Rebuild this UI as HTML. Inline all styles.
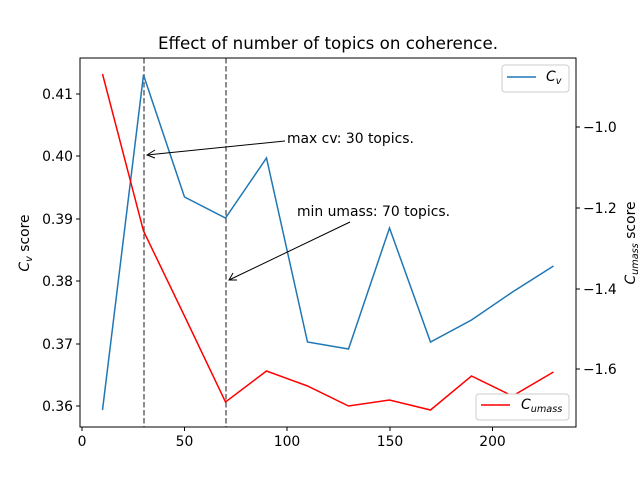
<!DOCTYPE html>
<html><head><style>body{margin:0;background:#fff}svg{display:block}text{font-family:"DejaVu Sans","Liberation Sans",sans-serif;fill:#000}</style></head>
<body>
<svg width="640" height="480" viewBox="0 0 640 480" xmlns="http://www.w3.org/2000/svg">
<rect width="640" height="480" fill="#fff"/>
<text x="328" y="49" font-size="16.7" text-anchor="middle">Effect of number of topics on coherence.</text>
<line x1="144" y1="58" x2="144" y2="427" stroke="#666" stroke-width="1.5" stroke-dasharray="5.5,2.5"/>
<line x1="226" y1="58" x2="226" y2="427" stroke="#666" stroke-width="1.5" stroke-dasharray="5.5,2.5"/>
<polyline fill="none" stroke="#1f77b4" stroke-width="1.5" points="102.5,410 143.5,75 184.5,197 225.5,218 266.5,158 307.5,342 348.5,349 389.5,228 430.5,342 471.5,320 512.5,292 553.5,266"/>
<polyline fill="none" stroke="red" stroke-width="1.5" points="102.5,74 143.5,231 184.5,316 225.5,402 266.5,371 307.5,386 348.5,406 389.5,400 430.5,410 471.5,376 512.5,396 553.5,372"/>
<rect x="80" y="58" width="496" height="369" fill="none" stroke="#000" stroke-width="1"/>
<g stroke="#000" stroke-width="1">
<line x1="82" y1="427" x2="82" y2="431"/><line x1="184.5" y1="427" x2="184.5" y2="431"/><line x1="287" y1="427" x2="287" y2="431"/><line x1="390" y1="427" x2="390" y2="431"/><line x1="492.5" y1="427" x2="492.5" y2="431"/>
<line x1="76" y1="94" x2="80" y2="94"/><line x1="76" y1="156" x2="80" y2="156"/><line x1="76" y1="219" x2="80" y2="219"/><line x1="76" y1="281" x2="80" y2="281"/><line x1="76" y1="344" x2="80" y2="344"/><line x1="76" y1="406" x2="80" y2="406"/>
<line x1="576" y1="127" x2="580" y2="127"/><line x1="576" y1="208" x2="580" y2="208"/><line x1="576" y1="289" x2="580" y2="289"/><line x1="576" y1="369" x2="580" y2="369"/>
</g>
<g font-size="13.9" text-anchor="middle">
<text x="82" y="446">0</text><text x="184.5" y="446">50</text><text x="287" y="446">100</text><text x="390" y="446">150</text><text x="492.5" y="446">200</text>
</g>
<g font-size="13.9" text-anchor="end">
<text x="73" y="99">0.41</text><text x="73" y="161">0.40</text><text x="73" y="224">0.39</text><text x="73" y="286">0.38</text><text x="73" y="349">0.37</text><text x="73" y="411">0.36</text>
</g>
<g font-size="13.9">
<text x="583" y="132">−1.0</text><text x="583" y="213">−1.2</text><text x="583" y="294">−1.4</text><text x="583" y="374">−1.6</text>
</g>
<text transform="translate(29,243) rotate(-90)" font-size="13.9" text-anchor="middle"><tspan font-style="italic">C</tspan><tspan font-style="italic" font-size="9.7" dy="3">v</tspan><tspan dy="-3"> score</tspan></text>
<text transform="translate(635,243) rotate(-90)" font-size="13.9" text-anchor="middle"><tspan font-style="italic">C</tspan><tspan font-style="italic" font-size="9.7" dy="3">umass</tspan><tspan dy="-3"> score</tspan></text>
<text x="287" y="143" font-size="13.9">max cv: 30 topics.</text>
<line x1="285" y1="141" x2="147" y2="155" stroke="#000" stroke-width="1"/>
<polyline points="155,150 147,155 155,158" fill="none" stroke="#000" stroke-width="1"/>
<text x="297" y="216" font-size="13.9">min umass: 70 topics.</text>
<line x1="350" y1="222" x2="229" y2="280" stroke="#000" stroke-width="1"/>
<polyline points="233,273 229,280 237,280" fill="none" stroke="#000" stroke-width="1"/>
<rect x="502" y="65" width="67" height="27" rx="3" fill="#fff" stroke="#ccc"/>
<line x1="507" y1="77" x2="536" y2="77" stroke="#1f77b4" stroke-width="1.5"/>
<text x="546" y="81" font-size="13.9" font-style="italic">C<tspan font-size="9.7" dy="3">v</tspan></text>
<rect x="476" y="394" width="93" height="26" rx="3" fill="#fff" stroke="#ccc"/>
<line x1="481" y1="405" x2="510" y2="405" stroke="red" stroke-width="1.5"/>
<text x="521" y="409" font-size="13.9" font-style="italic">C<tspan font-size="9.7" dy="3">umass</tspan></text>
</svg>
</body></html>
